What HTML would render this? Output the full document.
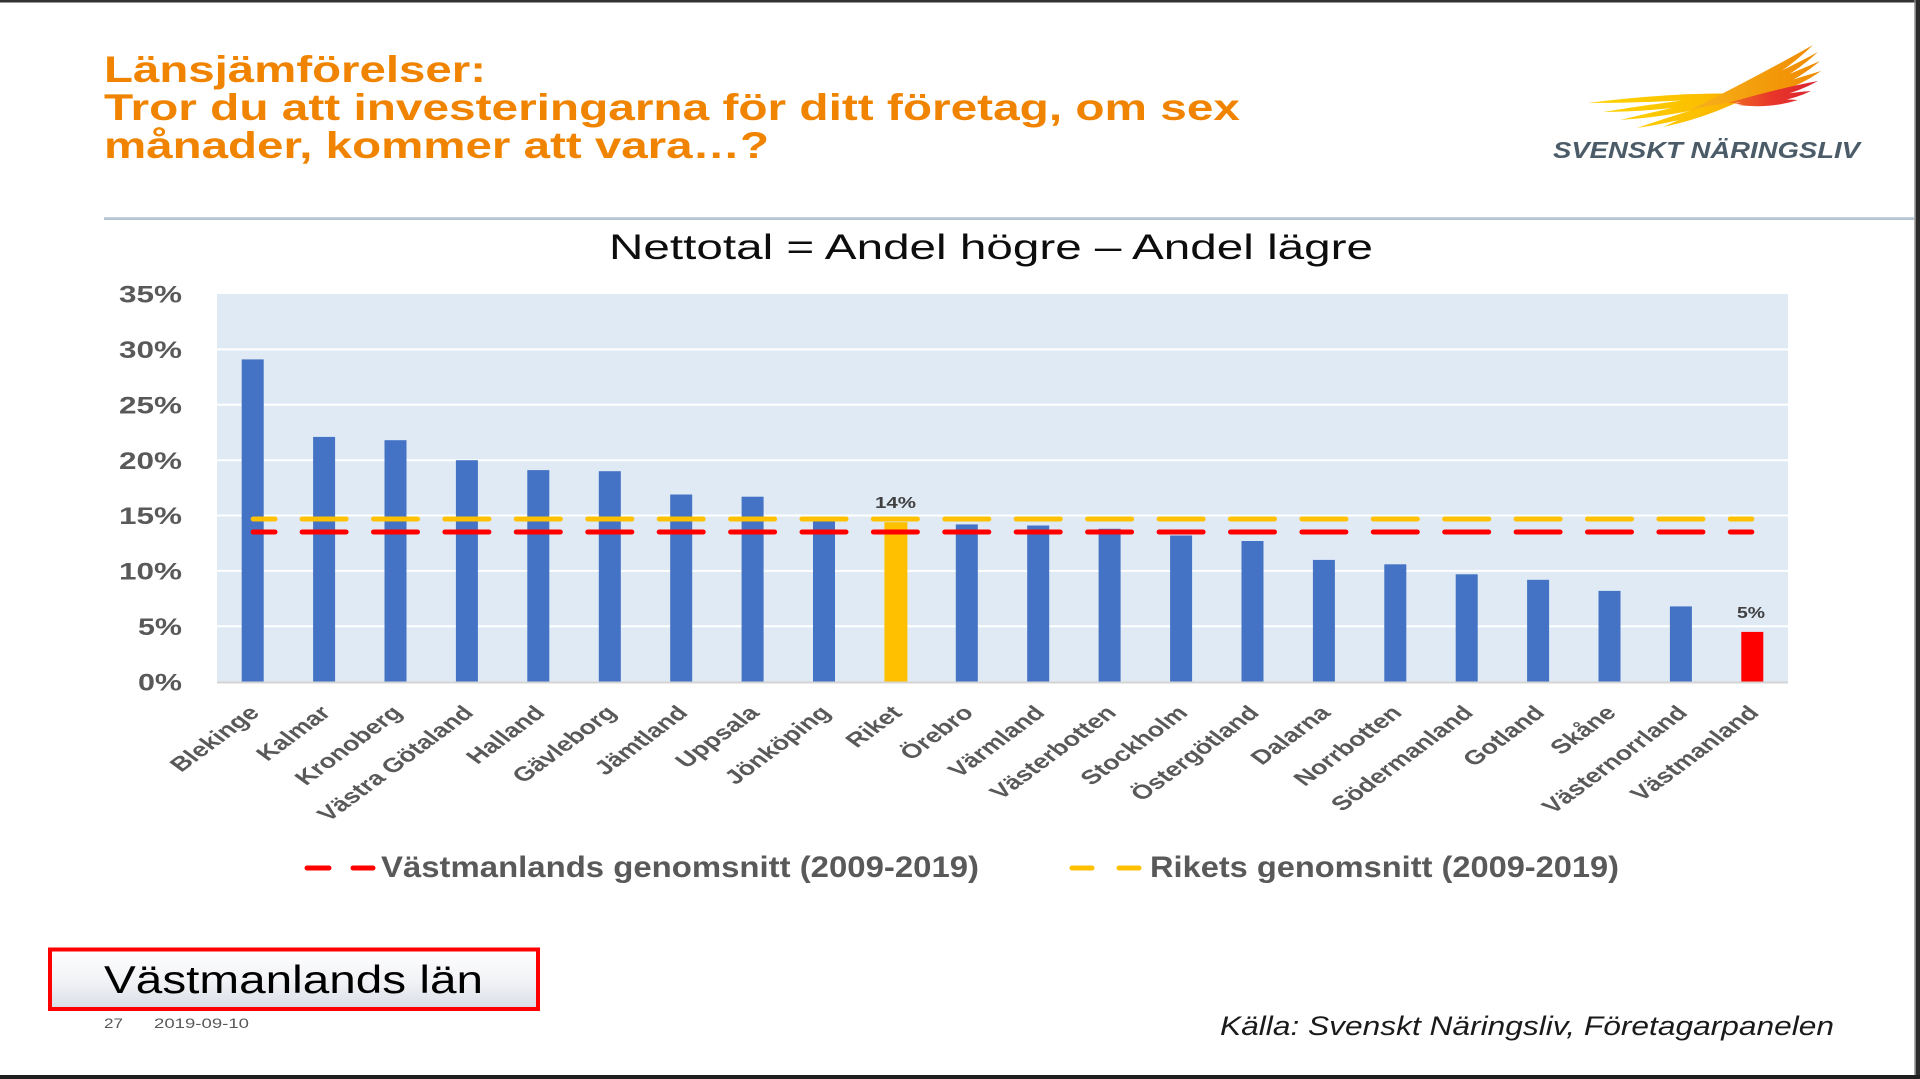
<!DOCTYPE html>
<html>
<head>
<meta charset="utf-8">
<style>
  html, body { margin: 0; padding: 0; background: #ffffff; }
  body { width: 1920px; height: 1079px; overflow: hidden; }
  svg { display: block; }
  text { font-family: "Liberation Sans", Arial, sans-serif; }
</style>
</head>
<body>
<svg width="1920" height="1079" viewBox="0 0 1920 1079" xmlns="http://www.w3.org/2000/svg">
  <defs>
    <linearGradient id="boxg" x1="0" y1="0" x2="0" y2="1">
      <stop offset="0" stop-color="#ffffff"/>
      <stop offset="0.55" stop-color="#f1f2f5"/>
      <stop offset="1" stop-color="#d8dde6"/>
    </linearGradient>
    <linearGradient id="sep" x1="0" y1="0" x2="0" y2="1">
      <stop offset="0" stop-color="#c9d6e2"/>
      <stop offset="1" stop-color="#a9bccd"/>
    </linearGradient>
    <linearGradient id="yel" x1="1588" y1="0" x2="1770" y2="0" gradientUnits="userSpaceOnUse">
      <stop offset="0" stop-color="#ffd400"/>
      <stop offset="0.6" stop-color="#fcc000"/>
      <stop offset="1" stop-color="#f5a000"/>
    </linearGradient>
    <linearGradient id="org" x1="1690" y1="0" x2="1820" y2="0" gradientUnits="userSpaceOnUse">
      <stop offset="0" stop-color="#f7b21a"/>
      <stop offset="1" stop-color="#f08a00"/>
    </linearGradient>
    <linearGradient id="red" x1="1725" y1="0" x2="1820" y2="0" gradientUnits="userSpaceOnUse">
      <stop offset="0" stop-color="#f07020"/>
      <stop offset="0.5" stop-color="#e8352a"/>
      <stop offset="1" stop-color="#d9232e"/>
    </linearGradient>
  </defs>

  <rect x="0" y="0" width="1920" height="1079" fill="#ffffff"/>

  <!-- Title -->
  <g fill="#f08400" font-weight="bold" font-size="37">
    <text x="104" y="82" textLength="382" lengthAdjust="spacingAndGlyphs">Länsjämförelser:</text>
    <text x="104" y="120" textLength="1136" lengthAdjust="spacingAndGlyphs">Tror du att investeringarna för ditt företag, om sex</text>
    <text x="104" y="158" textLength="665" lengthAdjust="spacingAndGlyphs">månader, kommer att vara…?</text>
  </g>

  <!-- Logo wing -->
  <g>
    <path d="M1588,103 Q1680,91 1762,94 Q1680,103 1588,103 Z" fill="url(#yel)"/>
    <path d="M1603,112 Q1690,98 1766,91 Q1690,111 1603,112 Z" fill="url(#yel)"/>
    <path d="M1620,120 Q1700,101 1770,87 Q1700,115 1620,120 Z" fill="url(#yel)"/>
    <path d="M1637,128 Q1710,103 1762,91 Q1710,117 1637,128 Z" fill="url(#yel)"/>
    <path d="M1663,127 Q1720,101 1770,85 Q1720,115 1663,127 Z" fill="url(#yel)"/>
    <path d="M1690,110 Q1758,76 1813,45 Q1764,93 1690,110 Z" fill="url(#org)"/>
    <path d="M1698,108 Q1766,80 1818,52 Q1772,95 1698,108 Z" fill="url(#org)"/>
    <path d="M1708,106 Q1772,82 1820,61 Q1778,97 1708,106 Z" fill="url(#org)"/>
    <path d="M1716,104 Q1778,84 1821,71 Q1782,99 1716,104 Z" fill="url(#org)"/>
    <path d="M1728,103 Q1780,88 1818,81 Q1780,102 1728,103 Z" fill="url(#red)"/>
    <path d="M1734,104 Q1780,93 1811,91 Q1780,106 1734,104 Z" fill="url(#red)"/>
    <path d="M1738,105 Q1770,98 1798,100 Q1770,109 1738,105 Z" fill="url(#red)"/>
  </g>
  <text x="1553" y="158" font-size="23" font-weight="bold" font-style="italic" fill="#4b5c68" textLength="307" lengthAdjust="spacingAndGlyphs">SVENSKT NÄRINGSLIV</text>

  <!-- separator -->
  <rect x="104" y="217" width="1810" height="3" fill="url(#sep)"/>

  <!-- Chart title -->
  <text x="609" y="259" font-size="35" fill="#0d0d0d" textLength="764" lengthAdjust="spacingAndGlyphs">Nettotal = Andel högre – Andel lägre</text>

  <!-- Plot area -->
  <rect x="217" y="294" width="1571" height="388" fill="#dfeaf5"/>
  <g stroke="#ffffff" stroke-width="2">
    <line x1="217" y1="349.4" x2="1788" y2="349.4"/>
    <line x1="217" y1="404.8" x2="1788" y2="404.8"/>
    <line x1="217" y1="460.2" x2="1788" y2="460.2"/>
    <line x1="217" y1="515.5" x2="1788" y2="515.5"/>
    <line x1="217" y1="570.9" x2="1788" y2="570.9"/>
    <line x1="217" y1="626.3" x2="1788" y2="626.3"/>
  </g>

  <!-- Bars -->
  <g fill="#4472c4">
    <rect x="241.7" y="359.4" width="22" height="322.3"/>
    <rect x="313.1" y="436.9" width="22" height="244.8"/>
    <rect x="384.5" y="440.2" width="22" height="241.5"/>
    <rect x="455.9" y="460.2" width="22" height="221.5"/>
    <rect x="527.3" y="470.1" width="22" height="211.6"/>
    <rect x="598.8" y="471.2" width="22" height="210.5"/>
    <rect x="670.2" y="494.5" width="22" height="187.2"/>
    <rect x="741.6" y="496.7" width="22" height="185.0"/>
    <rect x="813.0" y="521.1" width="22" height="160.6"/>
    <rect x="955.8" y="524.4" width="22" height="157.3"/>
    <rect x="1027.2" y="525.5" width="22" height="156.2"/>
    <rect x="1098.6" y="528.8" width="22" height="152.9"/>
    <rect x="1170.1" y="535.5" width="22" height="146.2"/>
    <rect x="1241.5" y="541.0" width="22" height="140.7"/>
    <rect x="1312.9" y="559.9" width="22" height="121.8"/>
    <rect x="1384.3" y="564.3" width="22" height="117.4"/>
    <rect x="1455.7" y="574.3" width="22" height="107.4"/>
    <rect x="1527.1" y="579.8" width="22" height="101.9"/>
    <rect x="1598.5" y="590.9" width="22" height="90.8"/>
    <rect x="1669.9" y="606.4" width="22" height="75.3"/>
  </g>
  <rect x="884.4" y="522.2" width="23" height="159.5" fill="#ffc000"/>
  <rect x="1741.3" y="631.9" width="22" height="49.8" fill="#ff0000"/>

  <line x1="217" y1="682.5" x2="1788" y2="682.5" stroke="#d4d4d4" stroke-width="2"/>

  <!-- Yellow dashed -->
  <g stroke="#ffc000" stroke-width="5" stroke-linecap="round">
    <line x1="253.2" y1="519" x2="275" y2="519"/>
    <line x1="302.1" y1="519" x2="346.1" y2="519"/>
    <line x1="373.5" y1="519" x2="417.5" y2="519"/>
    <line x1="444.9" y1="519" x2="488.9" y2="519"/>
    <line x1="516.3" y1="519" x2="560.3" y2="519"/>
    <line x1="587.8" y1="519" x2="631.8" y2="519"/>
    <line x1="659.2" y1="519" x2="703.2" y2="519"/>
    <line x1="730.6" y1="519" x2="774.6" y2="519"/>
    <line x1="802.0" y1="519" x2="846.0" y2="519"/>
    <line x1="873.4" y1="519" x2="917.4" y2="519"/>
    <line x1="944.8" y1="519" x2="988.8" y2="519"/>
    <line x1="1016.2" y1="519" x2="1060.2" y2="519"/>
    <line x1="1087.6" y1="519" x2="1131.6" y2="519"/>
    <line x1="1159.1" y1="519" x2="1203.1" y2="519"/>
    <line x1="1230.5" y1="519" x2="1274.5" y2="519"/>
    <line x1="1301.9" y1="519" x2="1345.9" y2="519"/>
    <line x1="1373.3" y1="519" x2="1417.3" y2="519"/>
    <line x1="1444.7" y1="519" x2="1488.7" y2="519"/>
    <line x1="1516.1" y1="519" x2="1560.1" y2="519"/>
    <line x1="1587.5" y1="519" x2="1631.5" y2="519"/>
    <line x1="1658.9" y1="519" x2="1702.9" y2="519"/>
    <line x1="1730.3" y1="519" x2="1751.8" y2="519"/>
  </g>
  <!-- Red dashed -->
  <g stroke="#ff0000" stroke-width="5" stroke-linecap="round">
    <line x1="253.2" y1="532" x2="275" y2="532"/>
    <line x1="302.1" y1="532" x2="346.1" y2="532"/>
    <line x1="373.5" y1="532" x2="417.5" y2="532"/>
    <line x1="444.9" y1="532" x2="488.9" y2="532"/>
    <line x1="516.3" y1="532" x2="560.3" y2="532"/>
    <line x1="587.8" y1="532" x2="631.8" y2="532"/>
    <line x1="659.2" y1="532" x2="703.2" y2="532"/>
    <line x1="730.6" y1="532" x2="774.6" y2="532"/>
    <line x1="802.0" y1="532" x2="846.0" y2="532"/>
    <line x1="873.4" y1="532" x2="917.4" y2="532"/>
    <line x1="944.8" y1="532" x2="988.8" y2="532"/>
    <line x1="1016.2" y1="532" x2="1060.2" y2="532"/>
    <line x1="1087.6" y1="532" x2="1131.6" y2="532"/>
    <line x1="1159.1" y1="532" x2="1203.1" y2="532"/>
    <line x1="1230.5" y1="532" x2="1274.5" y2="532"/>
    <line x1="1301.9" y1="532" x2="1345.9" y2="532"/>
    <line x1="1373.3" y1="532" x2="1417.3" y2="532"/>
    <line x1="1444.7" y1="532" x2="1488.7" y2="532"/>
    <line x1="1516.1" y1="532" x2="1560.1" y2="532"/>
    <line x1="1587.5" y1="532" x2="1631.5" y2="532"/>
    <line x1="1658.9" y1="532" x2="1702.9" y2="532"/>
    <line x1="1730.3" y1="532" x2="1751.8" y2="532"/>
  </g>

  <!-- data labels -->
  <g font-size="16" font-weight="bold" fill="#404040">
    <text x="875" y="508" textLength="41" lengthAdjust="spacingAndGlyphs">14%</text>
    <text x="1737" y="618" textLength="28" lengthAdjust="spacingAndGlyphs">5%</text>
  </g>

  <!-- Y axis labels -->
  <g font-size="24" font-weight="bold" fill="#595959">
    <text x="119" y="302.6" textLength="63" lengthAdjust="spacingAndGlyphs">35%</text>
    <text x="119" y="358.0" textLength="63" lengthAdjust="spacingAndGlyphs">30%</text>
    <text x="119" y="413.4" textLength="63" lengthAdjust="spacingAndGlyphs">25%</text>
    <text x="119" y="468.8" textLength="63" lengthAdjust="spacingAndGlyphs">20%</text>
    <text x="119" y="524.1" textLength="63" lengthAdjust="spacingAndGlyphs">15%</text>
    <text x="119" y="579.5" textLength="63" lengthAdjust="spacingAndGlyphs">10%</text>
    <text x="138" y="634.9" textLength="44" lengthAdjust="spacingAndGlyphs">5%</text>
    <text x="138" y="690.3" textLength="44" lengthAdjust="spacingAndGlyphs">0%</text>
  </g>

  <!-- X axis labels -->
  <g font-size="20" font-weight="bold" fill="#595959" text-anchor="end">
    <text transform="translate(260.7,714) scale(1.35,1) rotate(-45)">Blekinge</text>
    <text transform="translate(332.1,714) scale(1.35,1) rotate(-45)">Kalmar</text>
    <text transform="translate(403.5,714) scale(1.35,1) rotate(-45)">Kronoberg</text>
    <text transform="translate(474.9,714) scale(1.35,1) rotate(-45)">Västra Götaland</text>
    <text transform="translate(546.3,714) scale(1.35,1) rotate(-45)">Halland</text>
    <text transform="translate(617.8,714) scale(1.35,1) rotate(-45)">Gävleborg</text>
    <text transform="translate(689.2,714) scale(1.35,1) rotate(-45)">Jämtland</text>
    <text transform="translate(760.6,714) scale(1.35,1) rotate(-45)">Uppsala</text>
    <text transform="translate(832.0,714) scale(1.35,1) rotate(-45)">Jönköping</text>
    <text transform="translate(903.4,714) scale(1.35,1) rotate(-45)">Riket</text>
    <text transform="translate(974.8,714) scale(1.35,1) rotate(-45)">Örebro</text>
    <text transform="translate(1046.2,714) scale(1.35,1) rotate(-45)">Värmland</text>
    <text transform="translate(1117.6,714) scale(1.35,1) rotate(-45)">Västerbotten</text>
    <text transform="translate(1189.1,714) scale(1.35,1) rotate(-45)">Stockholm</text>
    <text transform="translate(1260.5,714) scale(1.35,1) rotate(-45)">Östergötland</text>
    <text transform="translate(1331.9,714) scale(1.35,1) rotate(-45)">Dalarna</text>
    <text transform="translate(1403.3,714) scale(1.35,1) rotate(-45)">Norrbotten</text>
    <text transform="translate(1474.7,714) scale(1.35,1) rotate(-45)">Södermanland</text>
    <text transform="translate(1546.1,714) scale(1.35,1) rotate(-45)">Gotland</text>
    <text transform="translate(1617.5,714) scale(1.35,1) rotate(-45)">Skåne</text>
    <text transform="translate(1688.9,714) scale(1.35,1) rotate(-45)">Västernorrland</text>
    <text transform="translate(1760.3,714) scale(1.35,1) rotate(-45)">Västmanland</text>
  </g>

  <!-- Legend -->
  <g stroke-width="5" stroke-linecap="round">
    <line x1="307" y1="868" x2="329" y2="868" stroke="#ff0000"/>
    <line x1="353" y1="868" x2="373" y2="868" stroke="#ff0000"/>
    <line x1="1072" y1="868" x2="1092" y2="868" stroke="#ffc000"/>
    <line x1="1119" y1="868" x2="1139" y2="868" stroke="#ffc000"/>
  </g>
  <g font-size="30" font-weight="bold" fill="#595959">
    <text x="381" y="877" textLength="598" lengthAdjust="spacingAndGlyphs">Västmanlands genomsnitt (2009-2019)</text>
    <text x="1150" y="877" textLength="469" lengthAdjust="spacingAndGlyphs">Rikets genomsnitt (2009-2019)</text>
  </g>

  <!-- Bottom box -->
  <rect x="50" y="949.5" width="488" height="59.5" fill="url(#boxg)" stroke="#ff0000" stroke-width="4"/>
  <text x="104" y="993" font-size="38.5" fill="#000000" textLength="379" lengthAdjust="spacingAndGlyphs">Västmanlands län</text>
  <g font-size="14" fill="#595959">
    <text x="104" y="1028" textLength="19" lengthAdjust="spacingAndGlyphs">27</text>
    <text x="154" y="1028" textLength="95" lengthAdjust="spacingAndGlyphs">2019-09-10</text>
  </g>

  <!-- Source -->
  <text x="1220" y="1035" font-size="27" font-style="italic" fill="#1a1a1a" textLength="614" lengthAdjust="spacingAndGlyphs">Källa: Svenskt Näringsliv, Företagarpanelen</text>

  <!-- Borders -->
  <rect x="0" y="0" width="1920" height="2.5" fill="#333333"/>
  <rect x="1914.3" y="0" width="1.5" height="1079" fill="#8a8a8a"/>
  <rect x="1915.8" y="0" width="4.2" height="1079" fill="#2b2b2b"/>
  <rect x="0" y="1075" width="1920" height="4" fill="#1f1f1f"/>
</svg>
</body>
</html>
